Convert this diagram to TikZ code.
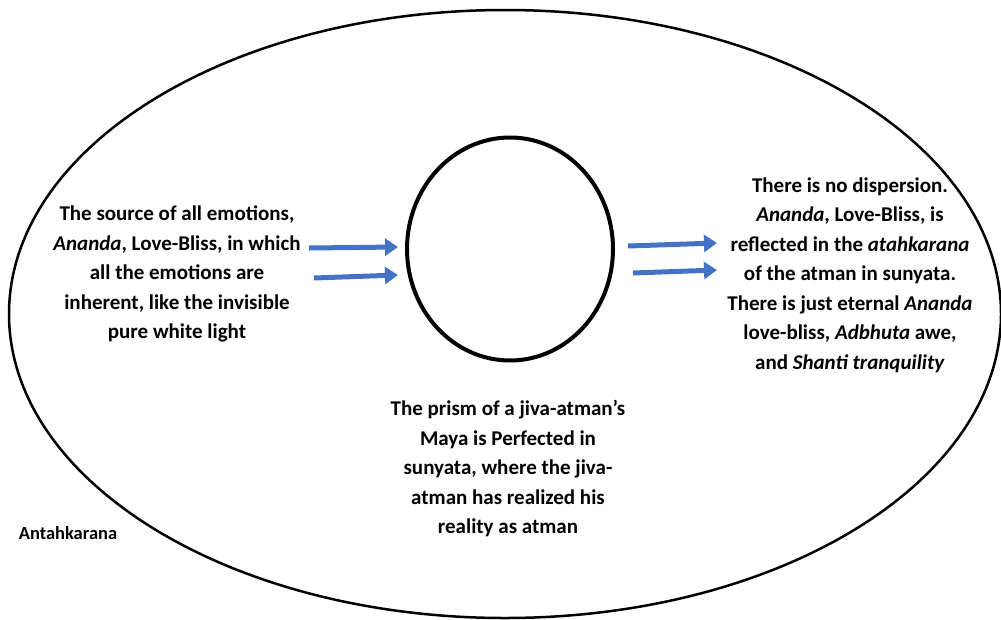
\documentclass[tikz,border=0pt]{standalone}
\usepackage{fontspec}
\setmainfont{Carlito}
\usetikzlibrary{arrows.meta,shapes.geometric}
\definecolor{beamblue}{RGB}{68,114,196}

\begin{document}
\begin{tikzpicture}[x=1pt,y=-1pt,
    beam/.style={line width=5pt,beamblue,-{Triangle[length=13pt,width=17pt]}},
    note/.style={align=center,inner sep=0pt,font=\fontsize{21}{29.5}\selectfont\bfseries}]
    \useasboundingbox (0,0) rectangle (1001,619);
    % outer field and the prism
    \node[draw,ellipse,line width=2.5pt,inner sep=0pt,
      minimum width=992pt,minimum height=608pt] (antah) at (505,314) {};
    \node[draw,ellipse,line width=4pt,inner sep=0pt,
      minimum width=206pt,minimum height=223pt] (prism) at (510,249) {};
    % light going in and coming out
    \foreach \n/\xa/\ya/\xb/\yb in {
      inA/309/248/398/247,
      inB/314/278/398/275,
      outA/628/246/717/243,
      outB/633/273/717/270}{
      \coordinate (\n-s) at (\xa,\ya);
      \coordinate (\n-e) at (\xb,\yb);
      \draw[beam] (\n-s) -- (\n-e);
    }
    \node[note] (source) at (177,274) {The source of all emotions,\\
      \textit{Ananda}, Love-Bliss, in which\\
      all the emotions are\\
      inherent, like the invisible\\
      pure white light};
    \node[note] (reflect) at (850,275) {There is no dispersion.\\
      \textit{Ananda}, Love-Bliss, is\\
      reflected in the \textit{atahkarana}\\
      of the atman in sunyata.\\
      There is just eternal \textit{Ananda}\\
      love-bliss, \textit{Adbhuta} awe,\\
      and \textit{Shanti tranquility}};
    \node[note] (maya) at (508,469) {The prism of a jiva-atman’s\\
      Maya is Perfected in\\
      sunyata, where the jiva-\\
      atman has realized his\\
      reality as atman};
    \node[inner sep=0pt,font=\fontsize{18.5}{22}\selectfont\bfseries] (label) at (68,533) {Antahkarana};
  \end{tikzpicture}
\end{document}
